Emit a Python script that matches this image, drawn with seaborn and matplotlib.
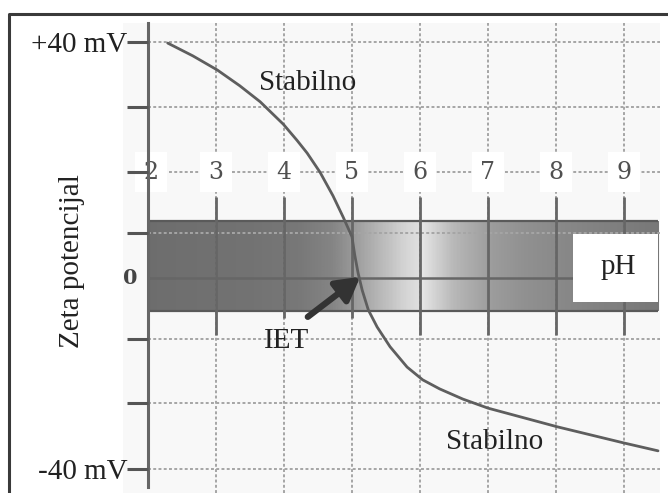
import numpy as np
import seaborn as sns
import matplotlib.pyplot as plt
from matplotlib.colors import LinearSegmentedColormap
from matplotlib.patches import Rectangle

# zeta potential curve (pH, mV in the sketch's scale)
ph = [2.29, 2.66, 3.02, 3.35, 3.65, 3.99, 4.19, 4.34, 4.53, 4.72, 4.87, 5.00,
      5.04, 5.09, 5.15, 5.24, 5.37, 5.56, 5.81, 6.04, 6.29, 6.63, 7.00, 8.02,
      8.99, 9.50]
zeta = [39.8, 37.4, 34.75, 31.8, 28.8, 24.6, 21.6, 19.2, 15.6, 11.2, 7.2, 3.5,
        0.1, -3.3, -6.5, -10.2, -13.4, -17.1, -20.9, -23.3, -25.0, -26.9, -28.6,
        -32.1, -35.1, -36.6]

ph_ticks = [2, 3, 4, 5, 6, 7, 8, 9]
ytick_vals = [-40, -27.6, -15.6, 4.2, 15.6, 27.8, 40]
ytick_labels = ['-40 mV', '', '', '', '', '', '+40 mV']
zero_line = -4.2
band_top, band_bottom = 6.46, -10.40

# grey level of the shaded band along pH
band_ph = [2.0, 3.5, 4.2, 4.7, 5.0, 5.4, 5.8, 5.97, 6.03, 6.5, 7.0, 7.5, 8.2, 9.5]
band_grey = [0.43, 0.45, 0.47, 0.52, 0.60, 0.72, 0.84, 0.87, 0.90, 0.72, 0.62,
             0.57, 0.53, 0.47]

sns.set_style('white')
plt.rcParams['font.family'] = ['Liberation Serif', 'DejaVu Serif']

fig = plt.figure(figsize=(6.68, 4.93), dpi=100)
ax = fig.add_axes([0, 0, 1, 1])
ax.set_xlim(-0.176, 9.647)
ax.set_ylim(-44.5, 47.87)
ax.set_facecolor('white')

# faint grey paper behind the grid
ax.add_patch(Rectangle((1.63, -44.5), 9.53 - 1.63, 43.6 + 44.5,
                       facecolor='#f8f8f8', edgecolor='none', zorder=0))

# shaded band
stops = [((p - 2.0) / 7.5, (g, g, g)) for p, g in zip(band_ph, band_grey)]
cmap = LinearSegmentedColormap.from_list('band', stops)
ax.imshow(np.linspace(0, 1, 400).reshape(1, -1), cmap=cmap, aspect='auto',
          extent=[2, 9.5, band_bottom, band_top], zorder=1, interpolation='bilinear')
ax.hlines([band_top, band_bottom], 2, 9.5, color='#5a5a5a', lw=1.6, zorder=3)

# dotted grid
dots = (0, (1.5, 1.2))
ax.hlines(ytick_vals, 2, 9.53, color='#a5a5a5', lw=1.4, linestyle=dots, zorder=2)
ax.vlines(ph_ticks[1:], -44.5, 43.6, color='#a5a5a5', lw=1.4, linestyle=dots, zorder=2)

# solid marks through the band
ax.vlines([3, 6, 7, 8, 9], -14.9, 10.9, color='#666666', lw=2.0, zorder=3)
ax.vlines([4, 5], -11.7, 10.9, color='#666666', lw=2.0, zorder=3)
ax.hlines(zero_line, 2, 8.25, color='#666666', lw=1.8, zorder=3)

# white box holding "pH"
ax.add_patch(Rectangle((8.25, -8.71), 1.25, 4.03 + 8.71, facecolor='white',
                       edgecolor='none', zorder=4))
ax.text(8.91, -2.15, 'pH', fontsize=21, color='#222222', ha='center', va='center', zorder=7)

# the curve
sns.lineplot(x=ph, y=zeta, sort=False, estimator=None, color='#5e5e5e', lw=2.0,
             ax=ax, zorder=5)

# IET arrow
ax.annotate('', xy=(5.12, -4.0), xytext=(4.35, -11.5), zorder=6,
            arrowprops=dict(arrowstyle='-|>,head_length=0.7,head_width=0.4',
                            lw=4.5, color='#333333', mutation_scale=20,
                            shrinkA=0, shrinkB=0))
ax.text(4.04, -16.0, 'IET', fontsize=21, color='#222222', ha='center', va='center', zorder=7)
ax.text(4.35, 32.3, 'Stabilno', fontsize=21, color='#222222', ha='center', va='center', zorder=7)
ax.text(7.10, -34.9, 'Stabilno', fontsize=21, color='#222222', ha='center', va='center', zorder=7)

# pH labels on the dotted row
for p in ph_ticks:
    ax.text(p + (0.04 if p == 2 else 0), 15.6, str(p), fontsize=17, color='#505050',
            family='DejaVu Serif', ha='center', va='center',
            zorder=2.6 if p == 2 else 7,
            bbox=dict(boxstyle='square,pad=0.35', facecolor='white', edgecolor='none'))

ax.text(1.74, zero_line, '0', fontsize=15, fontweight='bold', color='#444444',
        family='DejaVu Serif', ha='center', va='center', zorder=7)
ax.text(0.88, -1.0, 'Zeta potencijal', fontsize=21, color='#222222', rotation=90,
        ha='center', va='center', zorder=7)

# y axis standing at pH 2
for s in ['top', 'right', 'bottom']:
    ax.spines[s].set_visible(False)
ax.spines['left'].set_position(('data', 2))
ax.spines['left'].set_bounds(-43.4, 43.6)
ax.spines['left'].set_color('#666666')
ax.spines['left'].set_linewidth(2.2)
ax.spines['left'].set_zorder(3)
ax.yaxis.set_zorder(3)
ax.set_xticks([])
ax.set_yticks(ytick_vals)
ax.set_yticklabels(ytick_labels)
ax.tick_params(axis='y', length=15, width=2.2, color='#555555', pad=0,
               labelsize=21, labelcolor='#222222', left=True)

# outer frame (left and top only)
ax.plot([-0.044, -0.044, 9.647], [-44.5, 45.2, 45.2], color='#3a3a3a', lw=2.2,
        clip_on=False, zorder=8)

fig.savefig('out.png', dpi=100)
